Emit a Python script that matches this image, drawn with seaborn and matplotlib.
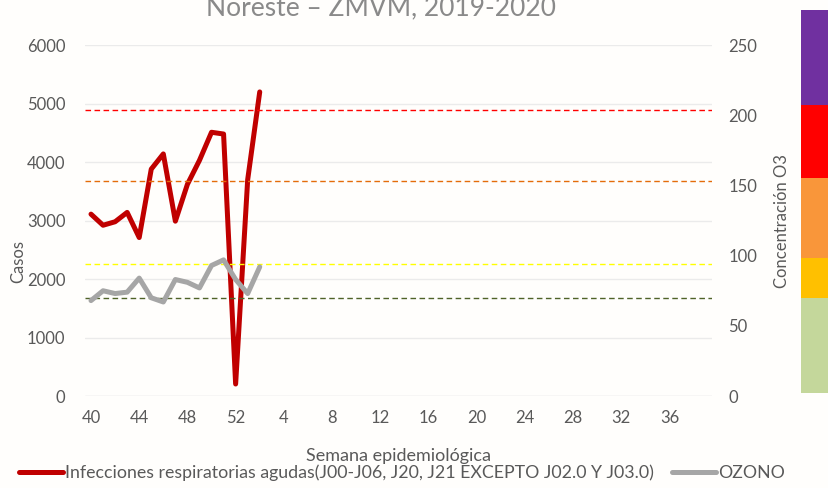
import matplotlib
matplotlib.use("Agg")
import matplotlib.pyplot as plt
import numpy as np
import pandas as pd
import seaborn as sns
from matplotlib.patches import Rectangle

# semanas epidemiológicas 40-52 de 2019 y 1-39 de 2020
semanas = list(range(40, 53)) + list(range(1, 40))

casos = [3110, 2920, 2980, 3140, 2710, 3880, 4140, 2990, 3620, 4030,
         4510, 4480, 205, 3700, 5200]
ozono = [68, 75, 73, 74, 84, 70, 67, 83, 81, 77, 93, 97, 83, 73, 92]

# umbrales de ozono (eje derecho)
umbral_vals = [204, 153, 94, 70]
umbral_cols = ["#FF0000", "#E46C0A", "#FFFF00", "#4F6228"]

# franja de colores a la derecha (límites en unidades de O3)
franja_lims = [2, 70, 98, 155, 207, 275]
franja_cols = ["#C4D79B", "#FFC000", "#F9963A", "#FF0000", "#7030A0"]

ROJO = "#C00000"
GRIS = "#A6A6A6"
TXT = "#595959"

sns.set_theme(style="white")
plt.rcParams["font.family"] = ["Lato", "DejaVu Sans"]

fig = plt.figure(figsize=(8.29, 4.88), dpi=100)
fig.patch.set_facecolor("#FFFEFC")
ax = fig.add_axes([0.1025, 0.1885, 0.756, 0.719])
ax.set_facecolor("none")
ax2 = ax.twinx()

df_c = pd.DataFrame({"idx": np.arange(len(casos)), "casos": casos})
df_o = pd.DataFrame({"idx": np.arange(len(ozono)), "ozono": ozono})

for v in range(0, 7000, 1000):
    ax.axhline(v, color="#D9D9D9" if v == 0 else "#EBEBEB", lw=1.0, zorder=0)

sns.lineplot(data=df_c, x="idx", y="casos", ax=ax, color=ROJO, lw=3.6,
             legend=False, zorder=2)

for v, c in zip(umbral_vals, umbral_cols):
    ax2.axhline(v, color=c, lw=1.0, ls=(0, (4, 2.5)), zorder=1)
sns.lineplot(data=df_o, x="idx", y="ozono", ax=ax2, color=GRIS, lw=3.6,
             legend=False, zorder=3)

ax.set_xlim(-0.5, len(semanas) - 0.5)
ax.set_ylim(0, 6000)
ax2.set_ylim(0, 250)
ticks = list(range(0, len(semanas), 4))
ax.set_xticks(ticks)
ax.set_xticklabels([str(semanas[i]) for i in ticks])
ax.set_yticks(range(0, 7000, 1000))
ax2.set_yticks(range(0, 300, 50))

for a in (ax, ax2):
    for s in a.spines.values():
        s.set_visible(False)
    a.tick_params(length=0, labelsize=12, colors=TXT)
ax.tick_params(axis="x", pad=10)
ax.tick_params(axis="y", pad=14)
ax2.tick_params(axis="y", pad=12)

ax.set_xlabel("Semana epidemiológica", fontsize=13, color=TXT, labelpad=16)
ax.set_ylabel("Casos", fontsize=12, color=TXT)
ax.yaxis.set_label_coords(-0.093, 0.382)
ax2.set_ylabel("Concentración O3", fontsize=12, color=TXT)
ax2.yaxis.set_label_coords(1.1, 0.5)

# franja de colores
strip = fig.add_axes([801 / 829, 0.1885, 28 / 829, 0.719])
strip.set_ylim(0, 250)
strip.set_xlim(0, 1)
strip.axis("off")
for lo, hi, c in zip(franja_lims[:-1], franja_lims[1:], franja_cols):
    strip.add_patch(Rectangle((0, lo), 1, hi - lo, color=c, lw=0, clip_on=False))

# título recortado por el borde superior, como en la imagen original
fig.text(381 / 829, 1 - 15 / 488, "Noreste \u2013 ZMVM, 2019-2020", ha="center",
         va="baseline", fontsize=19, color="#8A8A8A")

h1 = plt.Line2D([], [], color=ROJO, lw=3.6)
h2 = plt.Line2D([], [], color=GRIS, lw=3.6)
fig.legend([h1, h2],
           ["Infecciones respiratorias agudas(J00-J06, J20, J21 EXCEPTO J02.0 Y J03.0)", "OZONO"],
           loc="center", bbox_to_anchor=(402 / 829, 1 - 473 / 488), ncol=2,
           frameon=False, fontsize=12.8, labelcolor=TXT, handlelength=2.5,
           handletextpad=0.1, columnspacing=1.0)

fig.savefig("out.png", dpi=100, facecolor=fig.get_facecolor())
